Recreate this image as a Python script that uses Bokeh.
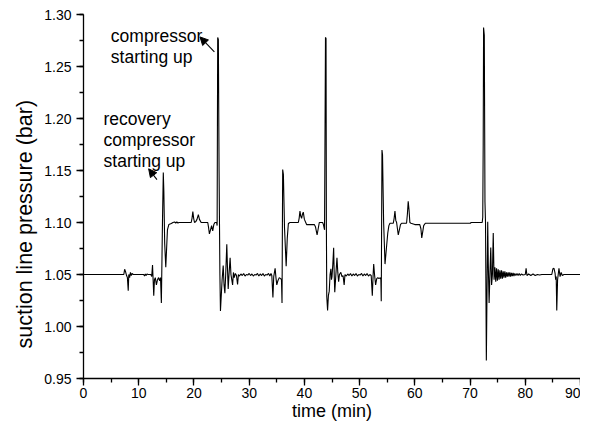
from bokeh.plotting import figure
from bokeh.models import Range1d, SingleIntervalTicker, PrintfTickFormatter, Arrow, NormalHead, ColumnDataSource, Title
from bokeh.core.properties import value
from bokeh.embed import file_html
from bokeh.resources import INLINE

# ---- data ----
time_min = [
    0.0, 7.3, 7.45, 7.6, 7.8, 7.95, 8.1, 8.2, 8.35, 8.5, 8.65, 8.8, 9.0, 10.9, 11.05, 11.2, 11.35, 11.5, 11.7,
    12.2, 12.35, 12.5, 12.6, 12.72, 12.85, 13.0, 13.2, 13.4, 13.6, 13.8, 13.95, 14.1, 14.3, 14.45, 14.55, 14.7,
    14.9, 15.05, 15.2, 15.45, 15.9, 16.2, 16.5, 16.7, 16.9, 17.1, 17.3, 19.5, 19.65, 19.8, 19.95, 20.1, 20.35,
    20.55, 20.8, 21.0, 21.3, 22.5, 22.65, 22.8, 23.0, 23.2, 23.4, 23.6, 23.8, 24.1, 24.2, 24.3, 24.42, 24.55,
    24.7, 24.8, 24.95, 25.1, 25.3, 25.45, 25.6, 25.75, 25.95, 26.05, 26.2, 26.35, 26.55, 26.7, 26.85, 27.0,
    27.15, 27.3, 27.5, 27.7, 27.9, 28.05, 28.25, 28.5, 28.75, 29.0, 29.25, 29.5, 29.75, 30.0, 30.25, 30.5,
    30.75, 31.0, 31.25, 31.5, 31.75, 32.0, 32.25, 32.5, 32.75, 33.0, 33.25, 33.5, 33.75, 33.95, 34.1, 34.3,
    34.45, 34.7, 34.85, 35.0, 35.2, 35.45, 35.7, 35.85, 35.95, 36.07, 36.2, 36.4, 36.7, 36.9, 37.1, 37.4,
    38.9, 39.05, 39.2, 39.35, 39.5, 39.65, 39.8, 40.0, 40.4, 41.8, 42.0, 42.3, 42.5, 42.7, 43.3, 43.45, 43.65,
    43.82, 43.92, 43.98, 44.05, 44.2, 44.35, 44.5, 44.65, 44.8, 44.9, 45.0, 45.15, 45.3, 45.4, 45.5, 45.7,
    45.9, 46.05, 46.2, 46.35, 46.6, 46.8, 47.0, 47.2, 47.35, 47.6, 47.85, 48.1, 48.35, 48.6, 48.85, 49.1,
    49.35, 49.6, 49.85, 50.1, 50.35, 50.6, 50.85, 51.1, 51.35, 51.6, 51.85, 52.1, 52.3, 52.45, 52.55, 52.7,
    52.9, 53.1, 53.3, 53.5, 53.75, 53.85, 53.92, 54.05, 54.15, 54.35, 54.6, 54.85, 55.1, 55.3, 55.5, 56.1,
    56.25, 56.4, 56.55, 56.7, 56.85, 57.0, 57.2, 57.4, 57.6, 58.5, 58.65, 58.8, 58.95, 59.1, 59.3, 60.0,
    60.9, 61.1, 61.25, 61.4, 61.6, 61.9, 70.1, 70.15, 72.2, 72.3, 72.38, 72.45, 72.58, 72.7, 72.8, 72.95,
    73.1, 73.2, 73.3, 73.45, 73.6, 73.75, 73.9, 74.05, 74.2, 74.35, 74.5, 74.65, 74.8, 74.95, 75.1, 75.25,
    75.4, 75.55, 75.7, 75.85, 76.0, 76.15, 76.3, 76.45, 76.6, 76.75, 76.9, 77.05, 77.2, 77.35, 77.5, 77.65,
    77.8, 77.95, 78.1, 78.3, 78.5, 78.7, 78.9, 79.1, 79.3, 79.6, 80.0, 80.15, 80.3, 80.6, 81.0, 81.4, 81.8,
    82.2, 82.6, 83.0, 84.8, 85.0, 85.2, 85.4, 85.5, 85.6, 85.7, 85.85, 86.1, 86.3, 86.5, 86.7, 87.0, 90.0,
]
pressure_bar = [
    1.050, 1.050, 1.055, 1.053, 1.049, 1.047, 1.0345, 1.050, 1.047, 1.052, 1.049, 1.051, 1.050, 1.050, 1.0485,
    1.0505, 1.049, 1.0505, 1.050, 1.050, 1.048, 1.059, 1.046, 1.0296, 1.045, 1.047, 1.040, 1.045, 1.047,
    1.044, 1.047, 1.0226, 1.100, 1.148, 1.130, 1.080, 1.057, 1.075, 1.093, 1.098, 1.099, 1.100, 1.1005,
    1.0995, 1.1005, 1.0995, 1.100, 1.100, 1.104, 1.1105, 1.104, 1.100, 1.101, 1.103, 1.1075, 1.103, 1.100,
    1.100, 1.095, 1.089, 1.093, 1.097, 1.092, 1.098, 1.100, 1.100, 1.097, 1.278, 1.276, 1.150, 1.050, 1.015,
    1.030, 1.045, 1.0586, 1.040, 1.032, 1.050, 1.079, 1.060, 1.036, 1.050, 1.066, 1.050, 1.045, 1.040,
    1.052, 1.047, 1.051, 1.049, 1.0404, 1.050, 1.0485, 1.0505, 1.049, 1.051, 1.0485, 1.050, 1.0495, 1.051,
    1.049, 1.0505, 1.0485, 1.050, 1.0495, 1.051, 1.0485, 1.0505, 1.049, 1.051, 1.0485, 1.050, 1.0495, 1.051,
    1.0485, 1.051, 1.049, 1.028, 1.048, 1.056, 1.047, 1.040, 1.044, 1.047, 1.046, 1.045, 1.0226, 1.151,
    1.146, 1.095, 1.058, 1.085, 1.099, 1.100, 1.100, 1.104, 1.111, 1.106, 1.104, 1.108, 1.110, 1.103, 1.098,
    1.098, 1.096, 1.088, 1.094, 1.100, 1.100, 1.098, 1.093, 1.278, 1.277, 1.100, 1.029, 1.0155, 1.030,
    1.034, 1.050, 1.0555, 1.045, 1.048, 1.060, 1.0758, 1.050, 1.033, 1.050, 1.066, 1.052, 1.043, 1.050,
    1.052, 1.048, 1.049, 1.040, 1.050, 1.0485, 1.0505, 1.049, 1.051, 1.0485, 1.0505, 1.049, 1.051, 1.0485,
    1.050, 1.0495, 1.051, 1.0485, 1.0505, 1.049, 1.051, 1.0485, 1.050, 1.049, 1.0296, 1.050, 1.060, 1.050,
    1.040, 1.046, 1.047, 1.046, 1.047, 1.045, 1.0242, 1.1696, 1.165, 1.100, 1.060, 1.075, 1.0899, 1.097,
    1.0993, 1.0993, 1.104, 1.111, 1.102, 1.100, 1.094, 1.088, 1.093, 1.098, 1.0993, 1.0993, 1.108, 1.1205,
    1.112, 1.100, 1.0993, 1.098, 1.098, 1.094, 1.0852, 1.090, 1.097, 1.0993, 1.0993, 1.100, 1.100, 1.105,
    1.175, 1.2875, 1.280, 1.120, 1.100, 0.9673, 1.050, 1.1008, 1.060, 1.0226, 1.050, 1.076, 1.040, 1.050,
    1.0899, 1.045, 1.057, 1.043, 1.056, 1.044, 1.055, 1.045, 1.054, 1.046, 1.054, 1.046, 1.053, 1.047,
    1.053, 1.047, 1.052, 1.048, 1.052, 1.048, 1.052, 1.048, 1.0515, 1.0485, 1.0515, 1.0485, 1.051, 1.049,
    1.051, 1.049, 1.051, 1.049, 1.0505, 1.0495, 1.050, 1.056, 1.049, 1.0505, 1.049, 1.0505, 1.049, 1.050,
    1.0495, 1.050, 1.050, 1.0555, 1.056, 1.051, 1.045, 1.048, 1.0155, 1.045, 1.056, 1.048, 1.052, 1.049,
    1.050, 1.050,
]

x_ticks_interval = 10
y_ticks_interval = 0.05

# annotation texts (data coordinates)
ann_text = ["compressor", "starting up", "recovery", "compressor", "starting up"]
ann_x = [4.95, 4.95, 3.63, 3.63, 3.63]
ann_y = [1.2796, 1.2596, 1.1998, 1.1795, 1.1591]

# arrows: (tail x, tail y) -> (head x, head y)
arrow_x0 = [23.7, 13.3]
arrow_y0 = [1.264, 1.1413]
arrow_x1 = [21.1, 11.8]
arrow_y1 = [1.2784, 1.1516]

FONT = "Liberation Sans"

p = figure(width=580, height=423, output_backend="svg", toolbar_location=None,
           x_range=Range1d(0, 90), y_range=Range1d(0.95, 1.30),
           min_border_left=83, min_border_right=0, min_border_top=14, min_border_bottom=44)
p.outline_line_color = None
p.grid.visible = False
p.background_fill_color = "white"
p.border_fill_color = "white"

p.line(time_min, pressure_bar, line_color="black", line_width=1.1)

src = ColumnDataSource(dict(x=ann_x, y=ann_y, t=ann_text))
p.text(x="x", y="y", text="t", source=src, text_font=value(FONT), text_font_size=value("17.5px"),
       text_color="black", text_align="left", text_baseline="alphabetic")

for x0, y0, x1, y1 in zip(arrow_x0, arrow_y0, arrow_x1, arrow_y1):
    p.add_layout(Arrow(x_start=x0, y_start=y0, x_end=x1, y_end=y1, line_color="black", line_width=1.1,
                       end=NormalHead(size=8, fill_color="black", line_color="black", line_width=1)))

p.xaxis.ticker = SingleIntervalTicker(interval=x_ticks_interval, num_minor_ticks=2)
p.yaxis.ticker = SingleIntervalTicker(interval=y_ticks_interval, num_minor_ticks=2)
p.yaxis.formatter = PrintfTickFormatter(format="%.2f")

for ax in (p.xaxis, p.yaxis):
    ax.axis_line_color = "black"
    ax.axis_line_width = 1.3
    ax.major_tick_line_color = "black"
    ax.minor_tick_line_color = "black"
    ax.major_tick_line_width = 1.3
    ax.minor_tick_line_width = 1.3
    ax.major_tick_out = 7
    ax.major_tick_in = 0
    ax.minor_tick_out = 4
    ax.minor_tick_in = 0
    ax.major_label_text_font = FONT
    ax.major_label_text_font_size = "14px"
    ax.major_label_text_color = "black"
    ax.axis_label_text_font = FONT
    ax.axis_label_text_font_style = "normal"
    ax.axis_label_text_color = "black"

p.xaxis.axis_label = "time (min)"
p.xaxis.axis_label_text_font_size = "18px"
p.xaxis.major_label_standoff = 2
p.xaxis.axis_label_standoff = 0
p.yaxis.major_label_standoff = 5

ylab = Title(text="suction line pressure (bar)", align="left", offset=30,
             text_font=FONT, text_font_size="21.5px", text_font_style="normal", text_color="black")
p.add_layout(ylab, "left")

open("out.html", "w").write(file_html(p, INLINE))
